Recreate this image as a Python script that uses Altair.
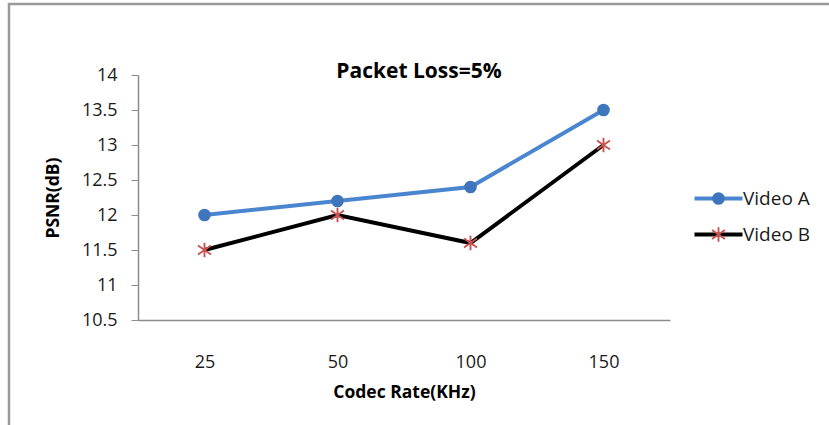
import altair as alt
import pandas as pd

rates = ["25", "50", "100", "150"]
video_a = [12.0, 12.2, 12.4, 13.5]
video_b = [11.5, 12.0, 11.6, 13.0]
series_names = ["Video A", "Video B"]
y_ticks = [10.5, 11, 11.5, 12, 12.5, 13, 13.5, 14]

rows = []
for name, vals in zip(series_names, [video_a, video_b]):
    for r, v in zip(rates, vals):
        rows.append({"rate": r, "psnr": v, "series": name})
df = pd.DataFrame(rows)

FONT = "Open Sans"
BLUE_LINE = "#4A86CF"
BLUE_DOT = "#3F75BC"
RED = "#C9524F"
# filled six-armed asterisk (vertical arm + two diagonals), consistent winding
AST = ("M-0.15,-1.15L0.15,-1.15L0.15,1.15L-0.15,1.15Z"
       "M0.938,0.840L-1.110,-0.594L-0.938,-0.840L1.110,0.594Z"
       "M1.110,-0.594L-0.938,0.840L-1.110,0.594L0.938,-0.840Z")
LEG_LINE = "M-4,0L4,0"

x = alt.X("rate:O", sort=rates, title="Codec Rate(KHz)",
          axis=alt.Axis(labelAngle=0, ticks=False, labelPadding=33, titlePadding=12,
                        domainColor="#8c8c8c", domainWidth=1.5, labelFontSize=18,
                        titleFontSize=17.5, titleFontWeight="bold"))
y = alt.Y("psnr:Q", title="PSNR(dB)",
          scale=alt.Scale(domain=[10.5, 14], nice=False, zero=False),
          axis=alt.Axis(values=y_ticks, format="~g", grid=False, tickSize=7,
                        tickColor="#8c8c8c", domainColor="#8c8c8c", domainWidth=1.5,
                        labelPadding=14, titlePadding=19, labelFontSize=18,
                        titleFontSize=17.5, titleFontWeight="bold"))

leg_line = alt.Legend(orient="none", legendX=571, legendY=114, title=None,
                      symbolType=LEG_LINE, symbolSize=144, symbolStrokeWidth=4,
                      labelFontSize=19, rowPadding=16, padding=0, labelOffset=15,
                      labelOpacity=0)
line = alt.Chart(df).mark_line(strokeWidth=4).encode(
    x=x, y=y,
    stroke=alt.Stroke("series:N", scale=alt.Scale(range=[BLUE_LINE, "#000000"]),
                      legend=leg_line),
)

leg_pt = alt.Legend(orient="none", legendX=571, legendY=114, title=None,
                    symbolSize=160, symbolStrokeWidth=0,
                    labelFontSize=19, rowPadding=16, padding=0, labelOffset=15)
points = alt.Chart(df).mark_point(size=160, filled=True, opacity=1, strokeWidth=0).encode(
    x=x, y=y,
    color=alt.Color("series:N", scale=alt.Scale(range=[BLUE_DOT, RED]), legend=leg_pt),
    shape=alt.Shape("series:N", scale=alt.Scale(range=["circle", AST]), legend=leg_pt),
)

border = alt.Chart(alt.Data(values=[{}])).mark_rect(
    fill="transparent", stroke="#9a9a9a", strokeWidth=2.5
).encode(x=alt.value(-129), x2=alt.value(760), y=alt.value(-71), y2=alt.value(400))

chart = alt.layer(border, line, points).properties(
    width=532, height=245,
    title=alt.Title("Packet Loss=5%", fontSize=21, fontWeight="bold", font=FONT,
                    offset=-79, dx=15, color="#000000"),
    autosize=alt.AutoSizeParams(type="none"),
    padding={"left": 138, "top": 75, "right": 159, "bottom": 105},
).configure(font=FONT).configure_view(stroke=None).configure_axis(
    labelColor="#1a1a1a", titleColor="#000000", labelFont=FONT, titleFont=FONT
).configure_legend(labelFont=FONT, labelColor="#1a1a1a")

chart.save("out.html", embed_options={"renderer": "svg", "actions": False})
